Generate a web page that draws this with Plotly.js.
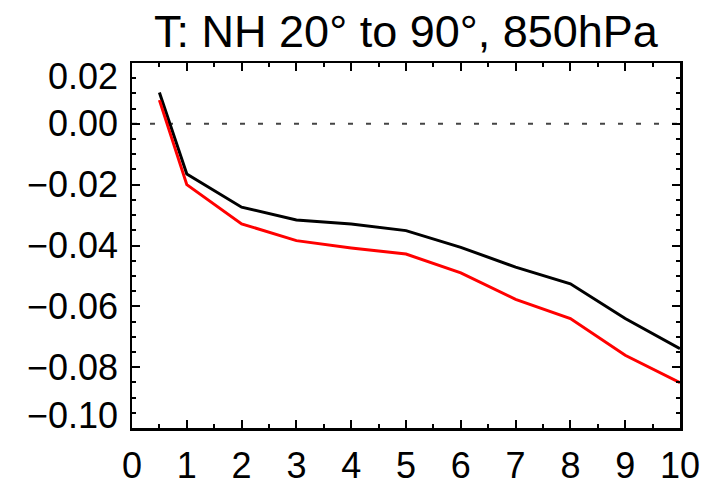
<!DOCTYPE html>
<html>
<head>
<meta charset="utf-8">
<script src="https://cdn.plot.ly/plotly-3.0.1.min.js"></script>
<style>html,body{margin:0;padding:0;background:#fff;}#chart{width:722px;height:486px;}</style>
</head>
<body>
<div id="chart"></div>
<script>
// ---- data ----
const xValues = [0.5, 1, 2, 3, 4, 5, 6, 7, 8, 9, 10];
const blackSeries = [0.0103, -0.0165, -0.0274, -0.0316, -0.0329, -0.0351, -0.0406, -0.0471, -0.0526, -0.0640, -0.0739];
const redSeries   = [0.0078, -0.0200, -0.0329, -0.0384, -0.0408, -0.0428, -0.0490, -0.0577, -0.0640, -0.0761, -0.0851];
const xTickVals = [0, 1, 2, 3, 4, 5, 6, 7, 8, 9, 10];
const xTickText = ['0', '1', '2', '3', '4', '5', '6', '7', '8', '9', '10'];
const yTickVals = [0.02, 0.00, -0.02, -0.04, -0.06, -0.08, -0.10];
const yTickText = ['0.02', '0.00', '\u22120.02', '\u22120.04', '\u22120.06', '\u22120.08', '\u22120.10'];
const zeroLineX = [0, 10];
const zeroLineY = [0, 0];
const titleText = 'T: NH 20\u00b0 to 90\u00b0, 850hPa';

const yRange = [-0.10, 0.02];
const xRange = [0, 10];

const font = 'Liberation Sans, Arial, Helvetica, sans-serif';

// IDL pushes the end labels inside the frame; shift them by a fixed pixel amount
const pxShift = 13;
const yAnnotations = yTickVals.map((v, i) => {
  let ys = 0;
  if (Math.abs(v - yRange[1]) < 1e-9) ys = -pxShift;
  if (Math.abs(v - yRange[0]) < 1e-9) ys = pxShift;
  return {
    xref: 'paper', yref: 'y', x: 0, y: v, xanchor: 'right', yanchor: 'middle',
    xshift: -12, yshift: ys, text: yTickText[i], showarrow: false,
    font: {family: font, size: 36, color: '#000'}
  };
});

const traces = [
  {x: zeroLineX, y: zeroLineY, mode: 'lines', line: {color: '#444', width: 2, dash: '5px,13px'}, hoverinfo: 'skip', showlegend: false},
  {x: xValues, y: blackSeries, mode: 'lines', line: {color: '#000', width: 3}, showlegend: false},
  {x: xValues, y: redSeries, mode: 'lines', line: {color: '#ff0000', width: 3}, showlegend: false}
];

const layout = {
  width: 722, height: 486,
  margin: {l: 132, r: 42, t: 63, b: 58, pad: 0},
  paper_bgcolor: '#fff', plot_bgcolor: '#fff',
  showlegend: false,
  font: {family: font, color: '#000', size: 36},
  title: {text: titleText, font: {family: font, size: 45, color: '#000'}, x: 0.5, xref: 'paper', xanchor: 'center', y: 0.935, yref: 'container', yanchor: 'middle'},
  annotations: yAnnotations,
  xaxis: {
    range: xRange, tickmode: 'array', tickvals: xTickVals, ticktext: xTickText,
    ticks: 'inside', ticklen: 8, tickwidth: 2, tickcolor: '#000',
    minor: {tickmode: 'linear', tick0: 0, dtick: 0.5, ticks: 'inside', ticklen: 4, tickwidth: 2, tickcolor: '#000'},
    showline: true, linecolor: '#000', linewidth: 2.5, mirror: 'ticks',
    showgrid: false, zeroline: false, tickfont: {size: 36, family: font, color: '#000'},
    ticklabelstandoff: 4
  },
  yaxis: {
    range: yRange, tickmode: 'array', tickvals: yTickVals,
    ticks: 'inside', ticklen: 8, tickwidth: 2, tickcolor: '#000',
    minor: {tickmode: 'linear', tick0: 0, dtick: 0.005, ticks: 'inside', ticklen: 4, tickwidth: 2, tickcolor: '#000'},
    showticklabels: false, showline: true, linecolor: '#000', linewidth: 2.5, mirror: 'ticks',
    showgrid: false, zeroline: false
  }
};

Plotly.newPlot('chart', traces, layout, {staticPlot: true, displayModeBar: false});
</script>
</body>
</html>
